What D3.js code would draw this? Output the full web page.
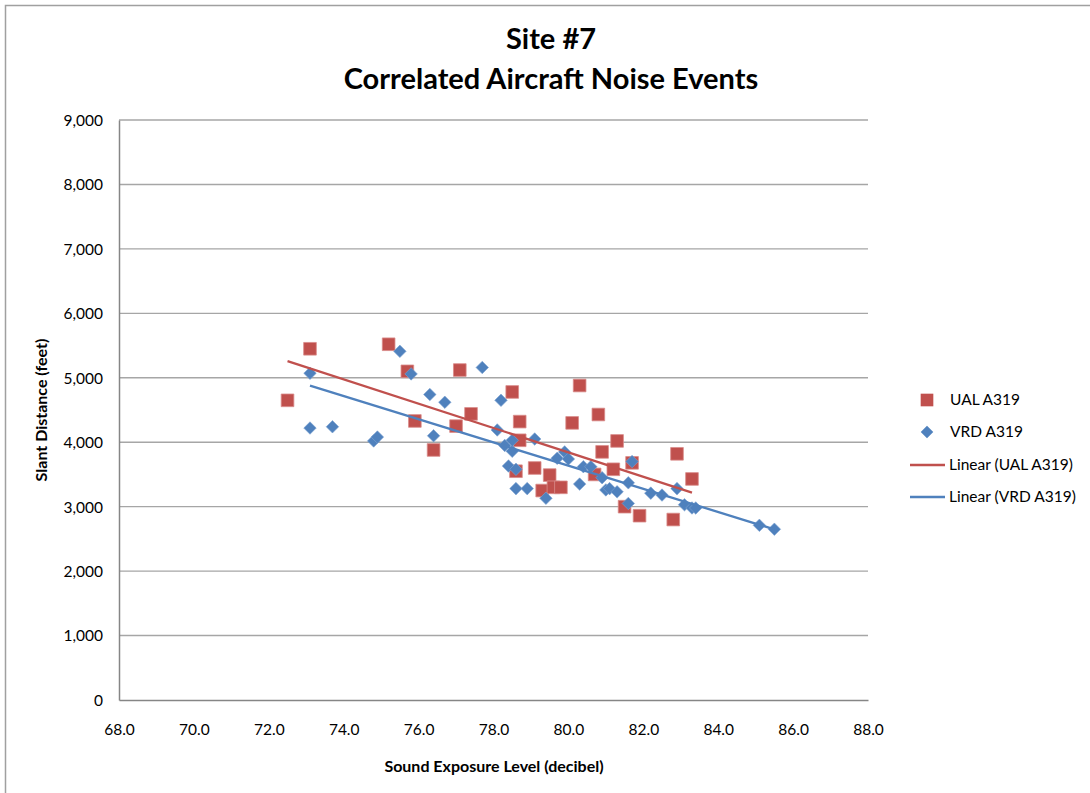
<!DOCTYPE html>
<html><head><meta charset="utf-8">
<script src="https://cdn.jsdelivr.net/npm/d3@7"></script>
<style>
html,body{margin:0;padding:0;background:#fff;}
svg{display:block;}
text{font-family:Lato,"Open Sans",sans-serif;fill:#000;}
</style></head>
<body>
<script>
// ---- data ----
const titleLines = ["Site #7", "Correlated Aircraft Noise Events"];
const xTicks = [68, 70, 72, 74, 76, 78, 80, 82, 84, 86, 88];
const yTicks = [0, 1000, 2000, 3000, 4000, 5000, 6000, 7000, 8000, 9000];
const xLabel = "Sound Exposure Level (decibel)";
const yLabel = "Slant Distance  (feet)";
const seriesNames = ["UAL A319", "VRD A319", "Linear (UAL A319)", "Linear (VRD A319)"];

const ualX = [72.5, 73.1, 75.2, 75.7, 75.9, 76.4, 77.0, 77.1, 77.4, 78.5, 78.7, 78.7, 78.6, 79.1, 79.3, 79.5, 79.6, 79.8, 80.1, 80.3, 80.7, 80.8, 80.9, 81.2, 81.3, 81.5, 81.7, 81.9, 82.8, 82.9, 83.3];
const ualY = [4650, 5450, 5520, 5100, 4330, 3880, 4250, 5120, 4440, 4780, 4320, 4030, 3550, 3600, 3250, 3490, 3300, 3300, 4300, 4880, 3500, 4430, 3850, 3580, 4020, 3000, 3680, 2860, 2800, 3820, 3430];

const vrdX = [73.1, 73.1, 73.7, 74.8, 74.9, 75.5, 75.8, 76.3, 76.4, 76.7, 77.7, 78.2, 78.1, 78.3, 78.5, 78.5, 78.4, 78.6, 78.6, 78.9, 79.1, 79.4, 79.7, 79.9, 80.0, 80.3, 80.4, 80.6, 80.9, 81.0, 81.1, 81.3, 81.6, 81.6, 81.7, 82.2, 82.5, 82.9, 83.1, 83.3, 83.4, 85.1, 85.5];
const vrdY = [5070, 4220, 4240, 4020, 4080, 5410, 5060, 4740, 4100, 4620, 5160, 4650, 4190, 3950, 3860, 4030, 3630, 3580, 3280, 3280, 4050, 3130, 3750, 3850, 3740, 3350, 3620, 3620, 3450, 3260, 3280, 3230, 3370, 3050, 3700, 3210, 3180, 3280, 3030, 2980, 2980, 2710, 2650];

const ualColor = "#C0504D", vrdColor = "#4F81BD";

// ---- layout ----
const W = 1090, H = 793;
const plot = {left: 119, right: 868, top: 120, bottom: 700};

const svg = d3.select("body").append("svg").attr("width", W).attr("height", H);

// outer border
svg.append("path").attr("d", `M5.5,${H} L5.5,5.5 L${W},5.5`).attr("fill","none").attr("stroke","#a0a0a0").attr("stroke-width",1.5);

const x = d3.scaleLinear().domain([68, 88]).range([plot.left, plot.right]);
const y = d3.scaleLinear().domain([0, 9000]).range([plot.bottom, plot.top]);

// gridlines
svg.append("g").selectAll("line").data(yTicks.filter(d => d > 0)).join("line")
  .attr("x1", plot.left).attr("x2", plot.right)
  .attr("y1", d => y(d)).attr("y2", d => y(d))
  .attr("stroke", "#a6a6a6").attr("stroke-width", 1.4);

// axes
const yAxis = d3.axisLeft(y).tickValues(yTicks).tickSize(0).tickPadding(16).tickFormat(d3.format(","));
const gy = svg.append("g").attr("transform", `translate(${plot.left},0)`).call(yAxis);
gy.select(".domain").attr("stroke", "#868686").attr("stroke-width", 1.5);
gy.selectAll("text").attr("font-size", 15.5).style("font-family", "Lato, sans-serif").attr("dy", "0.35em");

const xAxis = d3.axisBottom(x).tickValues(xTicks).tickSize(0).tickPadding(24).tickFormat(d3.format(".1f"));
const gx = svg.append("g").attr("transform", `translate(0,${plot.bottom})`).call(xAxis);
gx.select(".domain").attr("stroke", "#868686").attr("stroke-width", 1.5);
gx.selectAll("text").attr("font-size", 15.5).style("font-family", "Lato, sans-serif");

// titles
svg.append("text").attr("x", 551).attr("y", 49).attr("text-anchor", "middle")
  .attr("font-size", 29).attr("font-weight", "bold").text(titleLines[0]);
svg.append("text").attr("x", 551).attr("y", 89).attr("text-anchor", "middle")
  .attr("font-size", 29).attr("font-weight", "bold").text(titleLines[1]);

svg.append("text").attr("x", 494).attr("y", 772).attr("text-anchor", "middle")
  .attr("font-size", 16).attr("font-weight", "bold").text(xLabel);
svg.append("text").attr("transform", "translate(47,410) rotate(-90)").attr("text-anchor", "middle")
  .attr("font-size", 16).attr("font-weight", "bold").text(yLabel);

// regression
function linreg(xs, ys) {
  const mx = d3.mean(xs), my = d3.mean(ys);
  let sxy = 0, sxx = 0;
  xs.forEach((v, i) => { sxy += (v - mx) * (ys[i] - my); sxx += (v - mx) * (v - mx); });
  const b = sxy / sxx, a = my - b * mx;
  const [x0, x1] = d3.extent(xs);
  return [[x0, a + b * x0], [x1, a + b * x1]];
}

const ual = ualX.map((v, i) => ({x: v, y: ualY[i]}));
const vrd = vrdX.map((v, i) => ({x: v, y: vrdY[i]}));

const sq = d3.symbol().type(d3.symbolSquare).size(160);
const dm = d3.symbol().type(d3.symbolDiamond2).size(100);

svg.append("g").selectAll("path").data(ual).join("path")
  .attr("d", sq).attr("transform", d => `translate(${x(d.x)},${y(d.y)})`)
  .attr("fill", ualColor).attr("stroke", "#d98c8a").attr("stroke-width", 0.8);

svg.append("g").selectAll("path").data(vrd).join("path")
  .attr("d", dm).attr("transform", d => `translate(${x(d.x)},${y(d.y)})`)
  .attr("fill", vrdColor).attr("stroke", "#7ea2d2").attr("stroke-width", 0.6);

const line = d3.line().x(d => x(d[0])).y(d => y(d[1]));
svg.append("path").attr("d", line(linreg(ualX, ualY))).attr("stroke", ualColor).attr("stroke-width", 2.3).attr("fill", "none");
svg.append("path").attr("d", line(linreg(vrdX, vrdY))).attr("stroke", vrdColor).attr("stroke-width", 2.3).attr("fill", "none");

// legend
const lg = svg.append("g");
const rows = [400, 432, 465, 497];
lg.append("path").attr("d", sq).attr("transform", `translate(927,${rows[0]})`).attr("fill", ualColor);
lg.append("path").attr("d", dm).attr("transform", `translate(927,${rows[1]})`).attr("fill", vrdColor);
lg.append("line").attr("x1", 910).attr("x2", 945).attr("y1", rows[2]).attr("y2", rows[2]).attr("stroke", ualColor).attr("stroke-width", 2.3);
lg.append("line").attr("x1", 910).attr("x2", 945).attr("y1", rows[3]).attr("y2", rows[3]).attr("stroke", vrdColor).attr("stroke-width", 2.3);
lg.selectAll("text").data(seriesNames).join("text")
  .attr("x", (d, i) => i < 2 ? 950 : 949).attr("y", (d, i) => rows[i]).attr("dy", "0.35em")
  .attr("font-size", 15.5).text(d => d);
</script>
</body></html>
